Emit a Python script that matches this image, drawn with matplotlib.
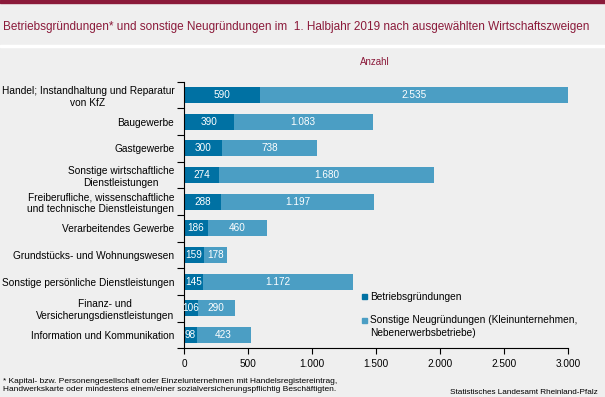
import matplotlib.pyplot as plt
import matplotlib.ticker as mticker
from matplotlib.patches import Rectangle
import numpy as np

# Daten (1. Halbjahr 2019)
branchen = [
    "Handel; Instandhaltung und Reparatur\nvon KfZ",
    "Baugewerbe",
    "Gastgewerbe",
    "Sonstige wirtschaftliche\nDienstleistungen",
    "Freiberufliche, wissenschaftliche\nund technische Dienstleistungen",
    "Verarbeitendes Gewerbe",
    "Grundstücks- und Wohnungswesen",
    "Sonstige persönliche Dienstleistungen",
    "Finanz- und\nVersicherungsdienstleistungen",
    "Information und Kommunikation",
]
betriebsgruendungen = [590, 390, 300, 274, 288, 186, 159, 145, 106, 98]
sonstige_neugruendungen = [2535, 1083, 738, 1680, 1197, 460, 178, 1172, 290, 423]
x_ticks = [0, 500, 1000, 1500, 2000, 2500, 3000]
legende = ["Betriebsgründungen",
           "Sonstige Neugründungen (Kleinunternehmen,\nNebenerwerbsbetriebe)"]

bg = "#efefef"
dunkelblau = "#0071a3"
hellblau = "#4b9ec4"
weinrot = "#8b1a3a"

plt.rcParams['font.family'] = ['Liberation Sans', 'DejaVu Sans']

def de_format(v):
    return f"{v:,.0f}".replace(",", ".")

W, H = 605, 397
fig = plt.figure(figsize=(W / 100, H / 100), dpi=100)
fig.patch.set_facecolor(bg)

# Rahmen oben und Trennlinie unter dem Titel
fig.patches.append(Rectangle((0, 1 - 3 / H), 1, 3 / H, transform=fig.transFigure,
                             color=weinrot, zorder=0))
fig.patches.append(Rectangle((0, 1 - 47 / H), 1, 2 / H, transform=fig.transFigure,
                             color="white", zorder=0))

fig.text(3 / W, 1 - 27 / H, "Betriebsgründungen* und sonstige Neugründungen im  1. Halbjahr 2019 nach ausgewählten Wirtschaftszweigen",
         color=weinrot, fontsize=8.45, va="center", ha="left")
fig.text(375 / W, 1 - 62 / H, "Anzahl", color=weinrot, fontsize=7, va="center", ha="center")

ax = fig.add_axes([184 / W, 1 - 348.3 / H, (568 - 184) / W, (348.3 - 81.7) / H])
ax.set_facecolor(bg)

y = np.arange(len(branchen))
b1 = ax.barh(y, betriebsgruendungen, height=0.59, color=dunkelblau)
b2 = ax.barh(y, sonstige_neugruendungen, left=betriebsgruendungen, height=0.59, color=hellblau)

ax.bar_label(b1, labels=[de_format(v) for v in betriebsgruendungen], label_type="center",
             color="white", fontsize=7.2)
ax.bar_label(b2, labels=[de_format(v) for v in sonstige_neugruendungen], label_type="center",
             color="white", fontsize=7.2)

ax.set_xlim(0, 3000)
ax.set_ylim(len(branchen) - 0.5, -0.5)
ax.set_xticks(x_ticks)
ax.xaxis.set_major_formatter(mticker.FuncFormatter(lambda v, p: de_format(v)))
ax.tick_params(axis="x", length=4, width=0.8, labelsize=7.2, pad=3.5)

ax.set_yticks(y)
ax.set_yticklabels(branchen, fontsize=7.25, multialignment="center")
ax.set_yticks(np.arange(-0.5, len(branchen)), minor=True)
ax.tick_params(axis="y", which="major", length=0, pad=7)
ax.tick_params(axis="y", which="minor", length=5, width=0.8)

for s in ["top", "right"]:
    ax.spines[s].set_visible(False)
for s in ["left", "bottom"]:
    ax.spines[s].set_linewidth(0.8)

# Legende (Quadrat auf Höhe der ersten Textzeile)
for farbe, text, ypos in zip([dunkelblau, hellblau], legende, [296.7, 320.3]):
    fig.patches.append(Rectangle((362 / W, 1 - (ypos + 2.5) / H), 5 / W, 5 / H,
                                 transform=fig.transFigure, color=farbe))
    fig.text(370 / W, 1 - (ypos - 5) / H, text, fontsize=7.3, va="top", ha="left",
             linespacing=1.3)

fig.text(3 / W, 1 - 378 / H,
         "* Kapital- bzw. Personengesellschaft oder Einzelunternehmen mit Handelsregistereintrag,\n"
         "Handwerkskarte oder mindestens einem/einer sozialversicherungspflichtig Beschäftigten.",
         fontsize=6, va="top", ha="left", linespacing=1.25)
fig.text(598 / W, 1 - 392 / H, "Statistisches Landesamt Rheinland-Pfalz",
         fontsize=5.9, va="center", ha="right")

fig.savefig("out.png", dpi=100, facecolor=bg)
